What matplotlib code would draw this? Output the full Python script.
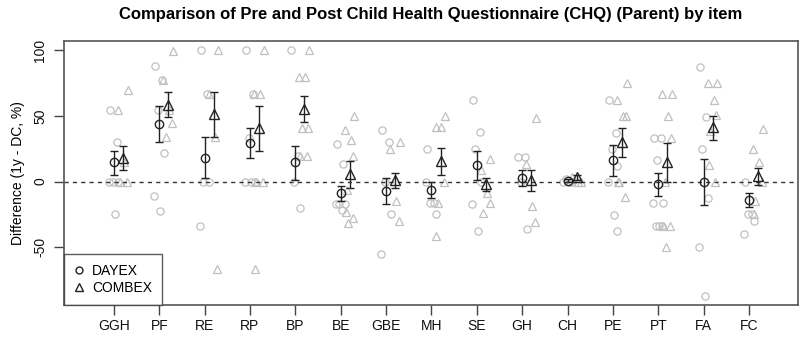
import matplotlib.pyplot as plt
from matplotlib.lines import Line2D

# item labels
items = ["GGH", "PF", "RE", "RP", "BP", "BE", "GBE", "MH", "SE", "GH", "CH", "PE", "PT", "FA", "FC"]

# group means with 95% interval (lower, upper)
dayex_mean = [14.7, 43.9, 18.0, 29.2, 14.7, -8.9, -6.8, -6.3, 12.9, 2.8, 0.8, 16.5, -1.8, 0.0, -13.7]
dayex_lo = [5.3, 30.4, 2.5, 17.8, 1.5, -15.0, -17.0, -12.4, 1.5, -3.0, 0.0, 4.6, -10.7, -17.5, -19.0]
dayex_hi = [23.6, 57.3, 33.7, 40.8, 27.4, -3.0, 2.8, 0.0, 23.6, 8.9, 1.6, 27.9, 6.3, 17.3, -8.4]

combex_mean = [18.0, 58.6, 51.5, 40.6, 55.3, 5.8, 1.3, 15.5, -1.8, 1.3, 3.3, 30.4, 14.7, 41.4, 4.1]
combex_lo = [9.1, 49.5, 33.7, 23.1, 45.2, -4.8, -4.8, 5.3, -6.8, -6.8, 1.3, 19.0, -0.5, 32.0, -2.3]
combex_hi = [26.9, 68.0, 68.0, 57.3, 65.0, 15.5, 6.3, 25.4, 2.8, 8.9, 5.3, 40.8, 29.2, 50.2, 10.4]

# individual differences per item
dayex_pts = [
    [54.8, 30.0, 0, 0, 0, -24.9],
    [88.3, 77.4, 54.8, 21.8, -11.2, -22.3],
    [100, 66.7, 0, 0, -33.5],
    [100, 66.7, 33.2, 0, 0, 0],
    [100, 19.8, 0, -20.0],
    [28.7, 13.4, -17.0, -17.0, -17.0, -22.0],
    [39.6, 29.9, 0, -24.9, -55.0],
    [24.9, -16.5, -16.5, -24.9, 0],
    [62.2, 37.5, 24.9, 0, -17.0, -37.3],
    [18.5, 18.5, 0, -36.0],
    [0, 0, 2.0, 0],
    [62.2, 37.0, 24.9, 12.2, 0, -25.1, -37.3],
    [33.0, 33.0, 16.5, -16.5, -16.5, -33.5, -33.5, -33.5],
    [87.0, 49.5, 24.9, -12.7, -50.0, -87.3],
    [0, -24.6, -24.6, -29.9, -39.8],
]
combex_pts = [
    [69.8, 54.8, 14.7, 0, 0],
    [99.7, 77.4, 54.8, 44.4, 33.7],
    [100, 66.7, 33.7, -66.5],
    [100, 66.7, 66.7, 0, 0, -66.5],
    [100, 79.4, 79.4, 40.6, 40.6, 19.8, 19.8],
    [50.2, 39.3, 31.7, 19.8, -6.3, -22.8, -27.7, -31.7],
    [29.9, 24.9, -15.0, -29.7],
    [50.2, 41.9, 41.9, 0, -16.5, -41.1],
    [17.3, 8.9, -8.9, -16.5, -24.1],
    [48.5, 13.4, -18.3, -31.0],
    [0, 3.3, 0],
    [74.8, 62.4, 50.2, 50.2, 0, 0, -11.9],
    [66.7, 66.7, 50.2, 33.0, 0, -33.5, -33.5, -49.5],
    [74.8, 74.8, 62.4, 51.0, 38.8, 12.7, 0],
    [40.1, 24.9, 15.2, 0, -15.0, -24.6],
]

jit = [-0.09, 0.06, -0.03, 0.1, -0.11, 0.02, 0.08, -0.06]
shift = 0.2

plt.rcParams['font.family'] = ['Liberation Sans', 'DejaVu Sans']
fig = plt.figure(figsize=(8, 3.37), dpi=100)
ax = fig.add_axes([0.08, 0.095, 0.9175, 0.783])

grey = '#c0c0c0'
for i in range(len(items)):
    for k, v in enumerate(dayex_pts[i]):
        ax.plot(i + jit[k % len(jit)], v, 'o', ms=5.2, mfc='none', mec=grey, mew=0.9)
    for k, v in enumerate(combex_pts[i]):
        ax.plot(i + shift + jit[(k + 3) % len(jit)], v, '^', ms=6.2, mfc='none', mec=grey, mew=0.9)

xs = list(range(len(items)))
xc = [x + shift for x in xs]
ax.errorbar(xs, dayex_mean,
            yerr=[[m - l for m, l in zip(dayex_mean, dayex_lo)], [h - m for m, h in zip(dayex_mean, dayex_hi)]],
            fmt='o', ms=6, mfc='none', mec='#222222', mew=1.0, ecolor='#222222', elinewidth=1.0,
            capsize=3.2, capthick=1.0)
ax.errorbar(xc, combex_mean,
            yerr=[[m - l for m, l in zip(combex_mean, combex_lo)], [h - m for m, h in zip(combex_mean, combex_hi)]],
            fmt='^', ms=7, mfc='none', mec='#222222', mew=1.0, ecolor='#222222', elinewidth=1.0,
            capsize=3.2, capthick=1.0)

ax.axhline(0, color='#333333', lw=1.0, ls=(0, (3, 3)))

ax.set_xlim(-1.1, 15.08)
ax.set_ylim(-94, 107)
ax.set_xticks(xs)
ax.set_xticklabels(items)
ax.set_yticks([100, 50, 0, -50])
ax.set_yticklabels(['100', '50', '0', '-50'], rotation=90, va='center')
ax.tick_params(axis='both', length=7, width=1, color='#444444', labelsize=10, labelcolor='#111111')
ax.tick_params(axis='x', pad=3)
ax.tick_params(axis='y', pad=5)
for s in ax.spines.values():
    s.set_color('#555555')
    s.set_linewidth(1.2)

ax.set_ylabel('Difference (1y - DC, %)', fontsize=10, labelpad=6)
ax.set_title('Comparison of Pre and Post Child Health Questionnaire (CHQ) (Parent) by item',
             fontsize=12, fontweight='bold', family=['Liberation Sans Narrow', 'Liberation Sans'], pad=16)

handles = [Line2D([], [], marker='o', ls='none', mfc='none', mec='#222222', ms=5),
           Line2D([], [], marker='^', ls='none', mfc='none', mec='#222222', ms=6)]
leg = ax.legend(handles, ['DAYEX', 'COMBEX'], loc='lower left', bbox_to_anchor=(0, 0),
                borderaxespad=0, fontsize=10, fancybox=False, handlelength=0.8,
                handletextpad=0.5, borderpad=0.7, labelspacing=0.25)
leg.get_frame().set_edgecolor('#333333')
leg.get_frame().set_linewidth(1.0)

fig.savefig('out.png', dpi=100)
